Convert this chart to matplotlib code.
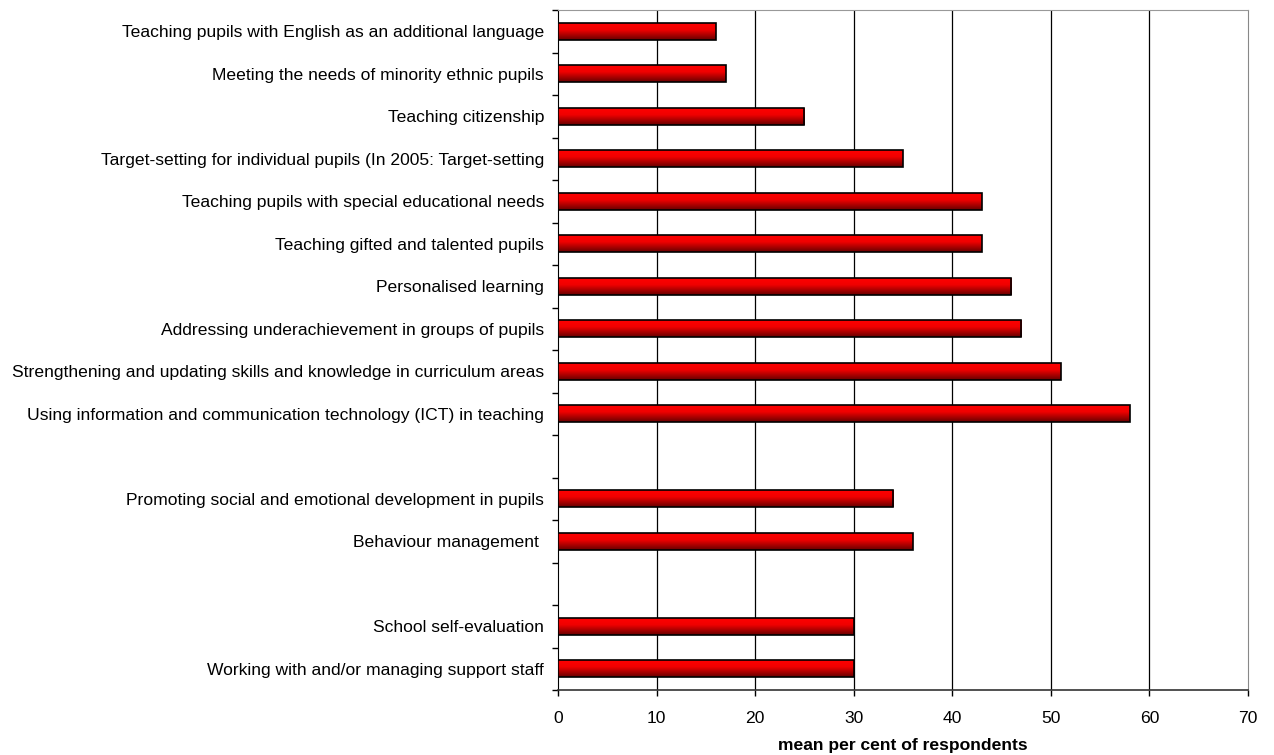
import numpy as np
import matplotlib
matplotlib.use("Agg")
import matplotlib.pyplot as plt
from matplotlib.colors import LinearSegmentedColormap

plt.rcParams['font.family'] = ['Liberation Sans', 'DejaVu Sans']

# Data (top to bottom), in three groups separated by a blank slot
group1_labels = [
    "Teaching pupils with English as an additional language",
    "Meeting the needs of minority ethnic pupils",
    "Teaching citizenship",
    "Target-setting for individual pupils (In 2005: Target-setting",
    "Teaching pupils with special educational needs",
    "Teaching gifted and talented pupils",
    "Personalised learning",
    "Addressing underachievement in groups of pupils",
    "Strengthening and updating skills and knowledge in curriculum areas",
    "Using information and communication technology (ICT) in teaching",
]
group1_values = [16, 17, 25, 35, 43, 43, 46, 47, 51, 58]

group2_labels = [
    "Promoting social and emotional development in pupils",
    "Behaviour management ",
]
group2_values = [34, 36]

group3_labels = [
    "School self-evaluation",
    "Working with and/or managing support staff",
]
group3_values = [30, 30]

x_ticks = [0, 10, 20, 30, 40, 50, 60, 70]
x_label = "mean per cent of respondents"

groups = [(group1_labels, group1_values), (group2_labels, group2_values), (group3_labels, group3_values)]

labels, values, slots = [], [], []
slot = 0
for gi, (lbs, vals) in enumerate(groups):
    for l, v in zip(lbs, vals):
        labels.append(l)
        values.append(v)
        slots.append(slot)
        slot += 1
    if gi < len(groups) - 1:
        slot += 1
n_slots = slot

fig = plt.figure(figsize=(12.74, 7.55), dpi=100)
ax = fig.add_axes([558 / 1274, 1 - 690 / 755, (1248 - 558) / 1274, (690 - 10) / 755])

cmap = LinearSegmentedColormap.from_list(
    "redgrad", [(0.0, "#ff0000"), (0.4, "#f00000"), (1.0, "#680000")])
grad = np.linspace(0, 1, 64).reshape(-1, 1)
bh = 0.4
for s, v in zip(slots, values):
    ax.imshow(grad, cmap=cmap, aspect='auto', extent=[0, v, s + bh / 2, s - bh / 2],
              origin='upper', zorder=3, interpolation='bilinear')
    ax.barh(s, v, height=bh, facecolor='none', edgecolor='black', linewidth=1.2, zorder=4)

fs = 12.6
ax.set_xlim(0, 70)
ax.set_ylim(n_slots - 0.5, -0.5)
ax.set_xticks(x_ticks)
ax.set_xticklabels([str(t) for t in x_ticks], fontsize=fs)
ax.tick_params(axis='x', length=4, width=1, direction='out', pad=11)

ax.set_yticks(slots)
ax.set_yticklabels(labels, fontsize=fs)
ax.tick_params(axis='y', which='major', length=0, pad=10)
ax.set_yticks(np.arange(-0.5, n_slots + 0.5, 1), minor=True)
ax.tick_params(axis='y', which='minor', length=4, width=1, direction='out')

for t in x_ticks[1:-1]:
    ax.axvline(t, color='black', linewidth=0.9, zorder=1)

ax.spines['left'].set_color('black')
ax.spines['bottom'].set_color('#333333')
ax.spines['bottom'].set_linewidth(1.2)
ax.spines['top'].set_color('#999999')
ax.spines['right'].set_color('#888888')

ax.set_xlabel(x_label, fontsize=fs, fontweight='bold', labelpad=9)

fig.savefig("out.png", dpi=100)
